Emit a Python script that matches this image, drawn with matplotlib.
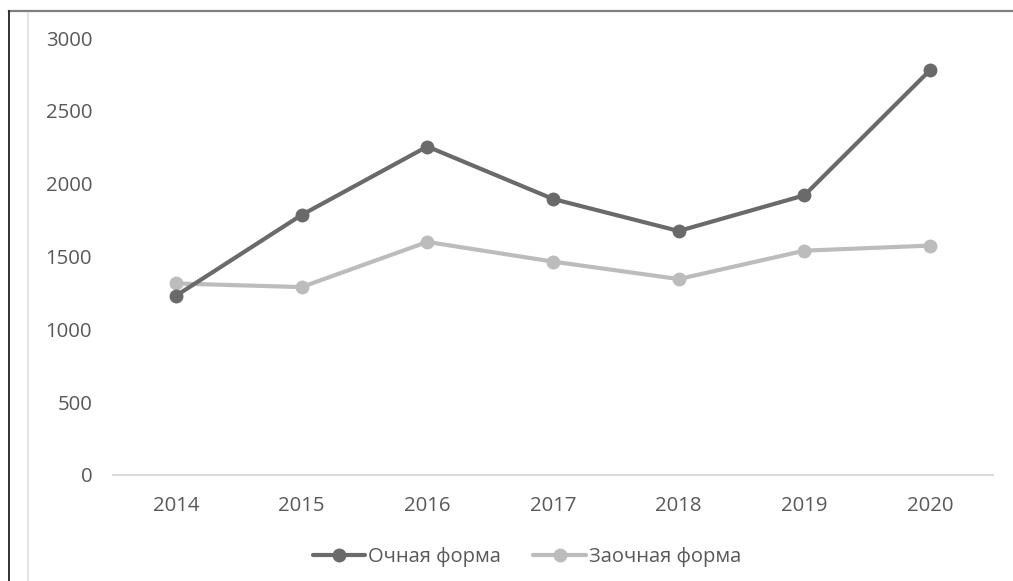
import matplotlib
matplotlib.use("Agg")
import matplotlib.pyplot as plt
from matplotlib.lines import Line2D

years = ["2014", "2015", "2016", "2017", "2018", "2019", "2020"]
full_time = [1230, 1785, 2255, 1895, 1675, 1920, 2780]
part_time = [1315, 1290, 1600, 1465, 1345, 1540, 1575]
labels = ["Очная форма", "Заочная форма"]
y_ticks = [0, 500, 1000, 1500, 2000, 2500, 3000]

plt.rcParams["font.family"] = ["Open Sans", "DejaVu Sans"]
text_color = "#595959"
dark = "#6a6a6a"
light = "#bcbcbc"

W, H = 1013, 581
fig = plt.figure(figsize=(W / 100, H / 100), dpi=100)
ax = fig.add_axes([113 / W, 1 - 475 / H, 880 / W, 437 / H])

x = list(range(len(years)))
ax.plot(x, full_time, color=dark, lw=3.0, marker="o", ms=9,
        label=labels[0], solid_capstyle="round", zorder=3)
ax.plot(x, part_time, color=light, lw=3.0, marker="o", ms=9,
        label=labels[1], solid_capstyle="round", zorder=2)

ax.set_xlim(-0.5, len(years) - 0.5)
ax.set_ylim(0, 3000)
ax.set_xticks(x)
ax.set_xticklabels(years)
ax.set_yticks(y_ticks)
ax.set_yticklabels([str(v) for v in y_ticks])

for side in ("top", "right", "left"):
    ax.spines[side].set_visible(False)
ax.spines["bottom"].set_color("#d9d9d9")
ax.spines["bottom"].set_linewidth(1.5)
ax.tick_params(axis="both", length=0, labelsize=14.7, labelcolor=text_color)
ax.tick_params(axis="y", pad=15)
ax.tick_params(axis="x", pad=15)

leg = fig.legend(loc="center", bbox_to_anchor=(527 / W, 1 - 557 / H),
                 ncol=2, frameon=False, fontsize=14.5, handlelength=2.6,
                 handletextpad=0.15, columnspacing=1.6, labelcolor=text_color)

# page frame around the chart
fig.add_artist(Line2D([9 / W, 1], [1 - 11 / H, 1 - 11 / H], color="#7f7f7f", lw=1.6))
fig.add_artist(Line2D([9 / W, 9 / W], [0, 1 - 11 / H], color="#222222", lw=1.3))
fig.add_artist(Line2D([28 / W, 28 / W], [0, 1 - 13 / H], color="#e3e3e3", lw=1.5))

fig.savefig("out.png", dpi=100)
